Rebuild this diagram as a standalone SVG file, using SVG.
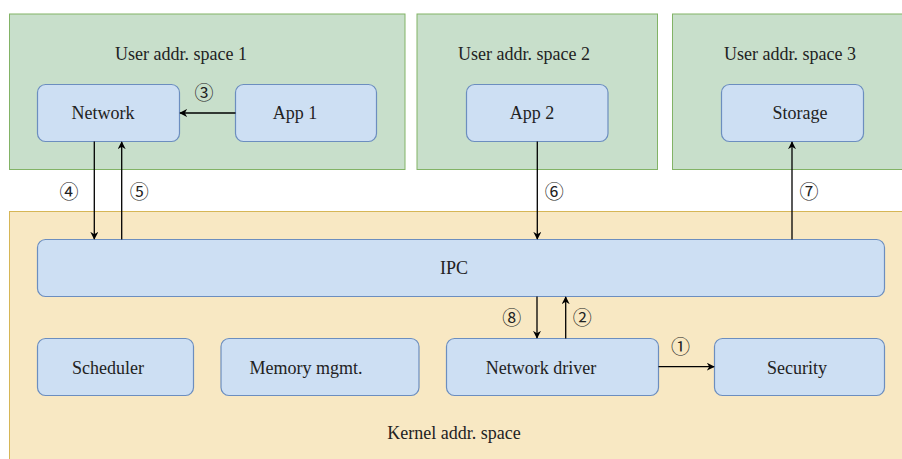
<svg xmlns="http://www.w3.org/2000/svg" width="902" height="459" viewBox="0 0 902 459" font-family="'Liberation Serif', 'Times New Roman', serif">
<defs>
<style>
.user{fill:#c8dfcb;stroke:#82b366;stroke-width:1}
.kern{fill:#f8e8c3;stroke:#d6b656;stroke-width:1}
.node{fill:#cddff3;stroke:#6c8ebf;stroke-width:1.2}
.lbl{font-family:'Liberation Serif','Times New Roman',serif;font-size:18px;fill:#222;text-anchor:middle}
.num{font-family:'Noto Sans CJK SC','Noto Sans CJK JP',sans-serif;font-size:19px;fill:#222;text-anchor:middle}
.edge{stroke:#000;stroke-width:1.3;fill:none;marker-end:url(#ah)}
</style>
<marker id="ah" viewBox="0 0 10 10" refX="9" refY="5" markerWidth="8" markerHeight="8" markerUnits="userSpaceOnUse" orient="auto">
<path d="M0,0 L10,5 L0,10 L3,5 Z" fill="#000"/>
</marker>
</defs>
<g id="user1"><rect class="user" x="9.5" y="14" width="395.5" height="155.5"/><text class="lbl" x="181" y="60">User addr. space 1</text></g>
<g id="user2"><rect class="user" x="417" y="14" width="240.5" height="155.5"/><text class="lbl" x="524" y="60">User addr. space 2</text></g>
<g id="user3"><rect class="user" x="672.5" y="14" width="240" height="155.5"/><text class="lbl" x="790" y="60">User addr. space 3</text></g>
<g id="kernel"><rect class="kern" x="9.5" y="211.5" width="903" height="260"/><text class="lbl" x="454" y="439">Kernel addr. space</text></g>
<g id="network"><rect class="node" x="37.5" y="84.5" width="142" height="57" rx="8"/><text class="lbl" x="103" y="119">Network</text></g>
<g id="app1"><rect class="node" x="235.5" y="84.5" width="141" height="57" rx="8"/><text class="lbl" x="295" y="119">App 1</text></g>
<g id="app2"><rect class="node" x="466.5" y="84.5" width="141.5" height="57" rx="8"/><text class="lbl" x="532" y="119">App 2</text></g>
<g id="storage"><rect class="node" x="721.5" y="84.5" width="142" height="57" rx="8"/><text class="lbl" x="800" y="119">Storage</text></g>
<g id="ipc"><rect class="node" x="37.5" y="239.5" width="847" height="57" rx="8"/><text class="lbl" x="454" y="274">IPC</text></g>
<g id="scheduler"><rect class="node" x="37.5" y="338.5" width="156" height="57" rx="8"/><text class="lbl" x="108" y="374">Scheduler</text></g>
<g id="memory"><rect class="node" x="221" y="338.5" width="198" height="57" rx="8"/><text class="lbl" x="306" y="374">Memory mgmt.</text></g>
<g id="netdriver"><rect class="node" x="446.5" y="338.5" width="212" height="57" rx="8"/><text class="lbl" x="541" y="374">Network driver</text></g>
<g id="security"><rect class="node" x="714.5" y="338.5" width="170" height="57" rx="8"/><text class="lbl" x="797" y="374">Security</text></g>
<g id="connectors">
<line class="edge" x1="235.5" y1="113" x2="180" y2="113"/>
<line class="edge" x1="94.3" y1="141.5" x2="94.3" y2="239"/>
<line class="edge" x1="121.7" y1="239.5" x2="121.7" y2="142"/>
<line class="edge" x1="537.3" y1="141.5" x2="537.3" y2="239"/>
<line class="edge" x1="792" y1="239.5" x2="792" y2="142"/>
<line class="edge" x1="537" y1="296.5" x2="537" y2="338"/>
<line class="edge" x1="565.7" y1="338.5" x2="565.7" y2="297"/>
<line class="edge" x1="658.5" y1="366.7" x2="714" y2="366.7"/>
<text class="num" x="204" y="99.5">③</text>
<text class="num" x="69" y="198.5">④</text>
<text class="num" x="139.3" y="198.5">⑤</text>
<text class="num" x="554.3" y="198.5">⑥</text>
<text class="num" x="809" y="198.5">⑦</text>
<text class="num" x="511.7" y="325">⑧</text>
<text class="num" x="582.3" y="325">②</text>
<text class="num" x="680.5" y="354">①</text>
</g>
</svg>
